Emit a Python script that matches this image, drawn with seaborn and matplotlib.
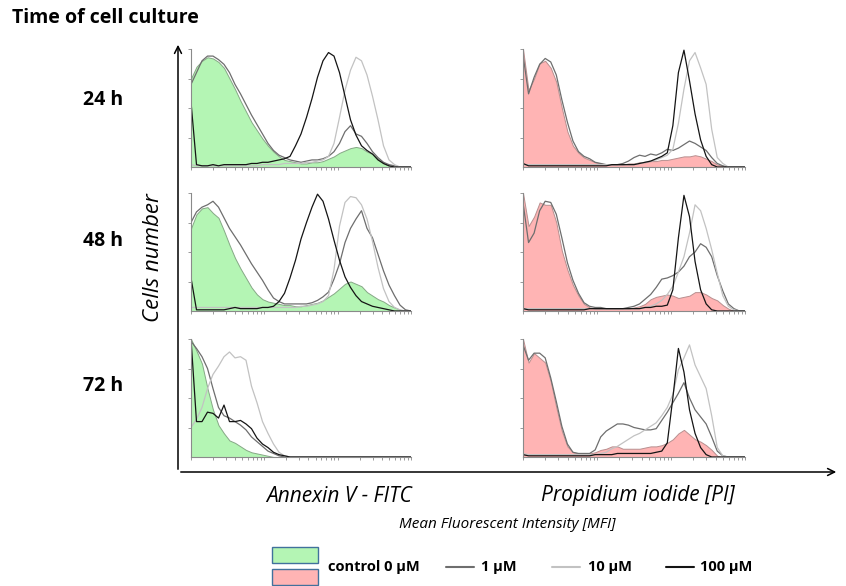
import numpy as np
import pandas as pd
import matplotlib
matplotlib.use("Agg")
import matplotlib.pyplot as plt
import seaborn as sns
from matplotlib.patches import FancyArrowPatch, Rectangle
from matplotlib.lines import Line2D

W, H = 846, 586
sns.set_theme(style="white")
plt.rcParams['font.family'] = ['Open Sans', 'DejaVu Sans']
plt.rcParams['text.color'] = 'black'

# fluorescence channel grid (log scale, 3 decades)
channel = np.logspace(0, 3, 41)

times = ["24 h", "48 h", "72 h"]
markers = ["Annexin V - FITC", "Propidium iodide [PI]"]
concs = ["control 0 \u00b5M", "1 \u00b5M", "10 \u00b5M", "100 \u00b5M"]

# ---- Annexin V - FITC ----
a24_ctrl = [75,85,90,93,92,89,84,75,66,56,47,38,31,24,18,13,9,6,5,4,3,3,4,4,5,7,9,12,14,16,17,16,13,11,7,3,1,0,0,0,0]
a24_1    = [70,80,90,94,94,91,87,80,70,62,53,44,36,28,20,14,10,8,6,5,4,5,6,6,7,9,13,20,30,35,28,26,20,13,8,4,2,1,0,0,0]
a24_10   = [2,1,1,1,1,1,1,1,1,1,1,1,1,2,2,2,2,3,3,3,3,4,4,5,6,9,20,42,65,82,93,90,78,60,40,18,6,2,0,0,0]
a24_100  = [55,2,1,1,2,1,2,2,2,2,2,3,3,4,4,5,6,7,9,18,28,42,58,76,90,97,94,80,60,40,27,18,14,11,6,3,1,0,0,0,0]

a48_ctrl = [70,82,87,88,83,79,68,56,45,36,28,20,14,10,8,7,6,5,5,4,4,5,6,7,9,12,15,19,23,25,23,21,16,13,10,8,5,3,1,0,0]
a48_1    = [75,84,88,90,93,88,79,70,63,56,48,40,33,26,18,11,8,6,6,6,6,6,7,9,12,16,27,40,58,70,78,85,70,62,48,34,22,13,5,1,0]
a48_10   = [3,3,3,3,3,3,3,3,3,3,3,3,3,3,3,3,3,3,3,3,4,4,5,6,8,13,35,72,92,97,96,90,78,59,37,19,8,3,1,0,0]
a48_100  = [28,1,1,1,1,1,1,2,3,2,2,2,2,3,3,4,8,15,28,43,61,75,88,99,93,78,60,43,29,20,13,8,6,4,3,2,1,0,0,0,0]

a72_ctrl = [100,90,79,58,40,27,20,14,12,9,6,4,3,2,1,0,0,0,0,0,0,0,0,0,0,0,0,0,0,0,0,0,0,0,0,0,0,0,0,0,0]
a72_1    = [98,92,85,75,58,42,35,33,30,27,23,17,13,9,5,3,1,0,0,0,0,0,0,0,0,0,0,0,0,0,0,0,0,0,0,0,0,0,0,0,0]
a72_10   = [25,32,42,58,70,77,85,89,84,85,82,60,46,30,20,11,4,1,0,0,0,0,0,0,0,0,0,0,0,0,0,0,0,0,0,0,0,0,0,0,0]
a72_100  = [100,30,30,38,37,33,44,30,30,31,28,24,16,11,8,4,2,1,0,0,0,0,0,0,0,0,0,0,0,0,0,0,0,0,0,0,0,0,0,0,0]

# ---- Propidium iodide ----
p24_ctrl = [100,65,75,88,90,84,72,50,30,18,12,8,6,4,3,2,2,2,2,3,3,4,4,5,5,6,6,7,8,9,9,10,9,7,5,2,1,0,0,0,0]
p24_1    = [95,62,76,87,92,89,78,57,38,22,13,9,7,4,3,2,2,2,3,5,8,10,9,11,10,12,15,14,16,19,22,20,17,14,8,3,1,0,0,0,0]
p24_10   = [2,2,2,2,2,2,2,2,2,2,2,2,2,2,2,2,2,2,2,2,2,3,4,5,6,8,10,15,37,66,90,97,84,70,32,8,3,0,0,0,0]
p24_100  = [3,1,1,1,1,1,1,1,1,1,1,1,1,1,1,1,2,2,2,2,2,3,4,5,7,9,12,35,80,99,73,45,23,9,2,0,0,0,0,0,0]

p48_ctrl = [100,72,80,92,90,90,75,51,35,22,13,6,3,2,2,2,2,2,2,2,3,4,6,10,12,13,14,13,11,12,13,16,16,14,11,9,5,2,0,0,0]
p48_1    = [92,58,66,85,93,92,82,62,41,26,15,7,4,3,3,2,2,2,2,3,4,6,10,14,20,27,28,30,33,38,46,50,57,54,46,30,17,6,2,0,0]
p48_10   = [2,2,2,2,2,2,2,2,2,2,2,2,2,2,2,2,2,2,2,2,2,2,3,4,6,9,14,21,33,46,66,90,85,70,52,32,13,4,1,0,0]
p48_100  = [2,1,1,1,1,1,1,1,1,1,1,1,2,2,2,2,2,2,2,2,2,2,3,3,4,4,5,18,62,98,80,42,18,6,1,0,0,0,0,0,0]

p72_ctrl = [100,80,88,84,80,64,42,22,9,4,3,3,3,4,6,7,9,9,7,7,7,7,8,9,9,10,12,15,20,23,19,15,13,10,6,1,0,0,0,0,0]
p72_1    = [95,82,88,88,84,67,47,26,11,4,3,3,3,6,17,22,25,28,28,27,25,24,23,23,24,31,38,46,54,63,50,40,34,28,17,5,1,0,0,0,0]
p72_10   = [3,2,2,2,2,2,2,2,2,2,2,2,2,2,3,4,7,9,12,15,18,20,23,26,29,35,42,53,74,84,95,78,68,58,35,8,1,0,0,0,0]
p72_100  = [2,1,1,1,1,1,1,1,1,1,1,1,1,2,2,2,2,3,3,3,3,3,3,3,4,5,12,50,92,72,40,20,8,2,0,0,0,0,0,0,0]

panels = {
    ("Annexin V - FITC", "24 h"): [a24_ctrl, a24_1, a24_10, a24_100],
    ("Annexin V - FITC", "48 h"): [a48_ctrl, a48_1, a48_10, a48_100],
    ("Annexin V - FITC", "72 h"): [a72_ctrl, a72_1, a72_10, a72_100],
    ("Propidium iodide [PI]", "24 h"): [p24_ctrl, p24_1, p24_10, p24_100],
    ("Propidium iodide [PI]", "48 h"): [p48_ctrl, p48_1, p48_10, p48_100],
    ("Propidium iodide [PI]", "72 h"): [p72_ctrl, p72_1, p72_10, p72_100],
}

fill_colors = {"Annexin V - FITC": "#b4f5b4", "Propidium iodide [PI]": "#ffb4b4"}
edge_colors = {"Annexin V - FITC": "#86a886", "Propidium iodide [PI]": "#b89090"}
line_palette = {concs[1]: "#6e6e6e", concs[2]: "#c2c2c2", concs[3]: "#141414"}

fig = plt.figure(figsize=(W / 100, H / 100), dpi=100)


def rect(x0, y_top, x1, y_base):
    return [x0 / W, 1 - y_base / H, (x1 - x0) / W, (y_base - y_top) / H]


col_x = [(191, 411), (523, 745)]
row_y = [(49, 167), (193, 311), (339, 457)]

for r, t in enumerate(times):
    for c, m in enumerate(markers):
        ax = fig.add_axes(rect(col_x[c][0], row_y[r][0], col_x[c][1], row_y[r][1]))
        ax.patch.set_alpha(0)
        vals = panels[(m, t)]
        ax.fill_between(channel, vals[0], 0, facecolor=fill_colors[m],
                        edgecolor=edge_colors[m], linewidth=0.7, zorder=1)
        long = pd.DataFrame({
            "channel": np.concatenate([channel] * 3),
            "count": np.concatenate(vals[1:]),
            "conc": np.repeat(concs[1:], len(channel)),
        })
        sns.lineplot(data=long, x="channel", y="count", hue="conc",
                     hue_order=concs[1:], palette=line_palette,
                     estimator=None, legend=False, linewidth=0.9, ax=ax, zorder=2)
        ax.set_xscale("log")
        ax.set_xlim(1, 1000)
        ax.set_ylim(0, 100)
        ax.set_yticks([25, 50, 75, 100])
        ax.set_xlabel("")
        ax.set_ylabel("")
        for s in ["top", "right"]:
            ax.spines[s].set_visible(False)
        for s in ["left", "bottom"]:
            ax.spines[s].set_color("#8a8a8a")
            ax.spines[s].set_linewidth(0.8)
        ax.tick_params(which="both", bottom=True, left=True, direction="out",
                       length=2.5, width=0.6, color="#8a8a8a",
                       labelbottom=False, labelleft=False)
        ax.tick_params(which="minor", length=2)

# big axes arrows
fig.add_artist(FancyArrowPatch((178 / W, 1 - 472 / H), (178 / W, 1 - 42 / H),
                               transform=fig.transFigure, arrowstyle="->,head_length=0.5,head_width=0.25",
                               mutation_scale=10, lw=1.1, color="black"))
fig.add_artist(FancyArrowPatch((178 / W, 1 - 472 / H), (839 / W, 1 - 472 / H),
                               transform=fig.transFigure, arrowstyle="->,head_length=0.5,head_width=0.25",
                               mutation_scale=10, lw=1.1, color="black"))


def ftext(x, y, s, **kw):
    fig.text(x / W, 1 - y / H, s, color="black", **kw)


ftext(12, 18, "Time of cell culture", fontsize=14, fontweight="bold", ha="left", va="center")
for t, y in zip(times, [100, 241, 386]):
    ftext(83, y, t, fontsize=14, fontweight="bold", ha="left", va="center")
ftext(153, 258, "Cells number", fontsize=16, style="italic", rotation=90, ha="center", va="center")
ftext(339, 496, markers[0], fontsize=15, style="italic", ha="center", va="center")
ftext(638, 496, markers[1], fontsize=15, style="italic", ha="center", va="center")
ftext(507, 524, "Mean Fluorescent Intensity [MFI]", fontsize=11, style="italic", ha="center", va="center")

# legend
for (y0, fc) in [(547, fill_colors[markers[0]]), (569, fill_colors[markers[1]])]:
    fig.add_artist(Rectangle((272 / W, 1 - (y0 + 16) / H), 46 / W, 16 / H,
                             transform=fig.transFigure, facecolor=fc,
                             edgecolor="#41719c", lw=1.0))
ftext(328, 567, concs[0], fontsize=10.5, fontweight="bold", ha="left", va="center")
for (x0, x1, xt, cc) in [(446, 474, 481, concs[1]), (552, 580, 588, concs[2]), (666, 694, 700, concs[3])]:
    fig.add_artist(Line2D([x0 / W, x1 / W], [1 - 567 / H] * 2, transform=fig.transFigure,
                          color=line_palette[cc], lw=1.5))
    ftext(xt, 567, cc, fontsize=10.5, fontweight="bold", ha="left", va="center")

fig.savefig("out.png", dpi=100)
